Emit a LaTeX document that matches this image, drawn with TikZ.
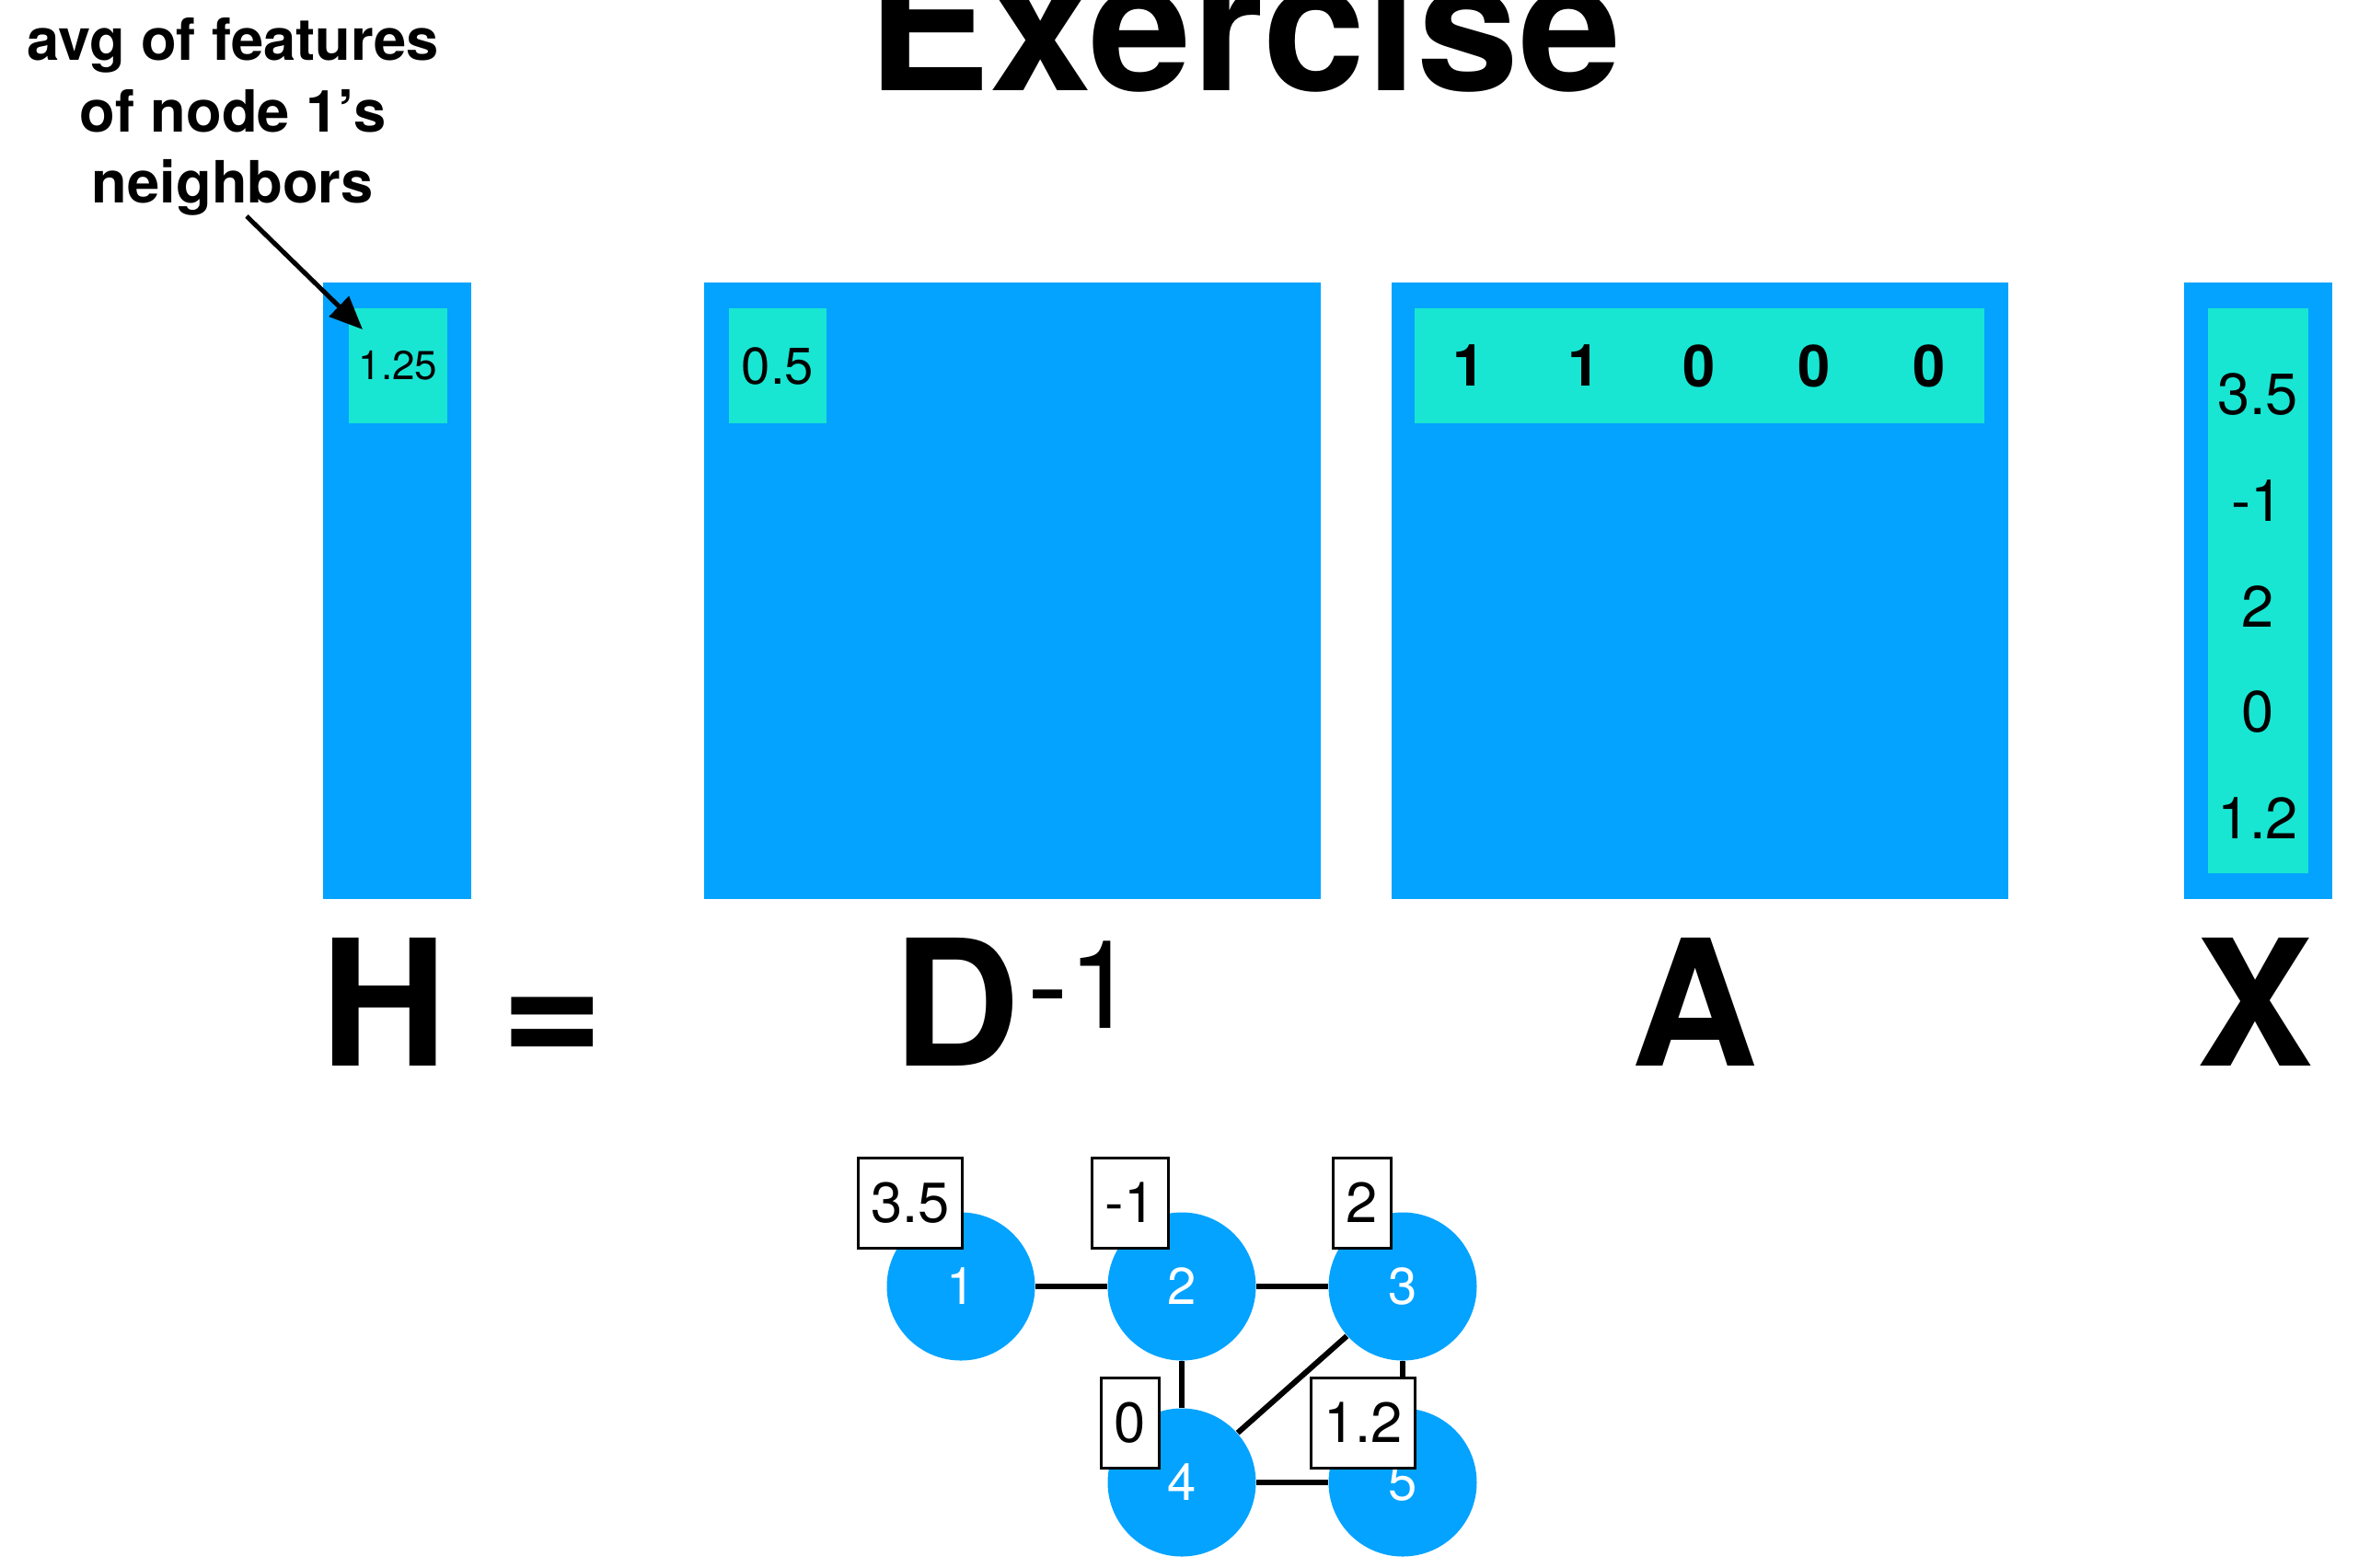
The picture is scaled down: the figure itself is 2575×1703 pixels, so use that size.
\documentclass[tikz,border=0pt]{standalone}
\usepackage{fontspec}
\setmainfont{TeX Gyre Heros}
\usetikzlibrary{arrows.meta}
\definecolor{netblue}{RGB}{3,163,255}
\definecolor{cellteal}{RGB}{24,230,210}
\tikzset{
	mat/.style={fill=netblue},
	cell/.style={fill=cellteal, inner sep=0},
	entry/.style={font=\fontsize{18}{18}\selectfont},
	big/.style={font=\fontsize{54.3}{54.3}\selectfont\bfseries, anchor=base, inner sep=0},
	gnode/.style={circle, fill=netblue, minimum size=16.1mm, inner sep=0, text=white, font=\fontsize{16}{16}\selectfont},
	feat/.style={draw, fill=white, line width=0.3mm, minimum height=9.8mm, inner xsep=1.4mm, inner ysep=0, font=\fontsize{17.5}{17.5}\selectfont},
	edge/.style={line width=0.6mm},
}

\begin{document}
\begin{tikzpicture}[x=0.1mm, y=-0.1mm]
			%%%%% START %%%%%
			\useasboundingbox[fill=white] (0,0) rectangle (2575,1703);
			
			\node[font=\fontsize{56.9}{56.9}\selectfont\bfseries, anchor=base, inner sep=0] (title) at (1352,98) {Exercise};
			
			% H
			\fill[mat] (351,307) rectangle (512,977);
			\node[cell, minimum width=10.7mm, minimum height=12.5mm, font=\fontsize{12.5}{12.5}\selectfont] (hcell) at (432.5,397.5) {1.25};
			
			\node[align=center, font=\fontsize{18}{22}\selectfont\bfseries, anchor=north, inner sep=0] (note) at (253,19) {avg of features\\of node 1’s\\neighbors};
			\coordinate (tip) at (394,358);
			\draw[line width=0.5mm, -{Triangle[length=3.6mm, width=3mm]}] ([xshift=1.5mm]note.south) -- (tip);
			
			% D^-1
			\fill[mat] (765,307) rectangle (1435,977);
			\node[cell, minimum width=10.6mm, minimum height=12.5mm, font=\fontsize{16}{16}\selectfont] (dcell) at (845,397.5) {0.5};
			
			% A
			\fill[mat] (1512,307) rectangle (2182,977);
			\fill[cellteal] (1537,335) rectangle (2156,460);
			\foreach \v [count=\i] in {1,1,0,0,0}
				\node[entry, font=\fontsize{18}{18}\selectfont\bfseries] (a\i) at ({1596+125*(\i-1)},397.5) {\v};
			
			% X
			\fill[mat] (2373,307) rectangle (2534,977);
			\fill[cellteal] (2399,335) rectangle (2508,949);
			\foreach \v [count=\i] in {3.5,-1,2,0,1.2}
				\node[entry] (x\i) at (2453,{429+115*(\i-1)}) {\v};
			
			\node[big] (hlab) at (417,1158) {H};
			\node[big] (eqlab) at (600,1158) {=};
			\node[big, anchor=base west] (dlab) at (970,1158) {D\kern0.8mm\raisebox{4.1mm}{\fontsize{38}{38}\selectfont\mdseries -1}};
			\node[big] (alab) at (1841,1158) {A};
			\node[big] (xlab) at (2450,1158) {X};
			
			% graph
			\node[gnode] (n1) at (1044,1398) {1};
			\node[gnode] (n2) at (1284,1398) {2};
			\node[gnode] (n3) at (1524,1398) {3};
			\node[gnode] (n4) at (1284,1611) {4};
			\node[gnode] (n5) at (1524,1611) {5};
			
			\draw[edge] (n1) -- (n2);
			\draw[edge] (n2) -- (n3);
			\draw[edge] (n2) -- (n4);
			\draw[edge] (n3) -- (n4);
			\draw[edge] (n3) -- (n5);
			\draw[edge] (n4) -- (n5);
			
			\node[feat] (f1) at (989,1307) {3.5};
			\node[feat] (f2) at (1228,1307) {-1};
			\node[feat] (f3) at (1480,1307) {2};
			\node[feat] (f4) at (1228,1546) {0};
			\node[feat] (f5) at (1481,1546) {1.2};
			
			%%%%% END %%%%%
\end{tikzpicture}
\end{document}
